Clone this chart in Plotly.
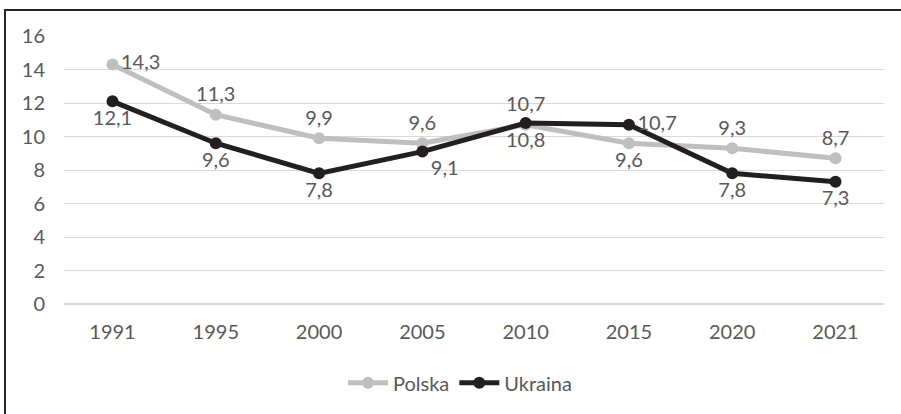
import plotly.graph_objects as go

years = ['1991', '1995', '2000', '2005', '2010', '2015', '2020', '2021']
polska = [14.3, 11.3, 9.9, 9.6, 10.7, 9.6, 9.3, 8.7]
ukraina = [12.1, 9.6, 7.8, 9.1, 10.8, 10.7, 7.8, 7.3]

pos_pl = ['middle right', 'top center', 'top center', 'top center',
          'top center', 'bottom center', 'top center', 'top center']
pos_ua = ['bottom center', 'bottom center', 'bottom center', 'bottom right',
          'bottom center', 'middle right', 'bottom center', 'bottom center']

font = 'Lato, Open Sans, sans-serif'
txt = '#595959'
fs = 20

fig = go.Figure()
fig.add_trace(go.Scatter(
    x=years, y=polska, name='Polska', mode='lines+markers+text',
    line=dict(color='#BFBFBF', width=5),
    marker=dict(color='#BFBFBF', size=12),
    text=[f'{v:.1f}'.replace('.', ',') for v in polska],
    textposition=pos_pl, textfont=dict(size=fs, color=txt, family=font)))
fig.add_trace(go.Scatter(
    x=years, y=ukraina, name='Ukraina', mode='lines+markers+text',
    line=dict(color='#231F20', width=5),
    marker=dict(color='#231F20', size=12),
    text=[f'{v:.1f}'.replace('.', ',') for v in ukraina],
    textposition=pos_ua, textfont=dict(size=fs, color=txt, family=font)))

# chart frame, right and bottom edges fall outside the picture
fig.add_shape(type='rect', xref='paper', yref='paper',
              x0=(5 - 64) / 820, x1=(960 - 64) / 820,
              y0=(308 - 470) / 272, y1=(308 - 9.5) / 272,
              line=dict(color='#262626', width=2), layer='below')

fig.update_layout(
    width=901, height=414,
    margin=dict(l=64, r=17, t=36, b=106),
    paper_bgcolor='white', plot_bgcolor='white',
    font=dict(family=font, size=fs, color=txt),
    showlegend=True,
    legend=dict(orientation='h', x=(460 - 64) / 820, xanchor='center',
                y=(308 - 388) / 272, yanchor='middle',
                font=dict(size=fs, color=txt), itemwidth=40),
    xaxis=dict(type='category', showgrid=False, showline=False,
               ticks='', tickfont=dict(size=fs, color=txt), ticklabelstandoff=14),
    yaxis=dict(range=[0, 16], dtick=2, showgrid=True, gridcolor='#D9D9D9',
               gridwidth=1, zeroline=True, zerolinecolor='#D9D9D9',
               ticks='', tickfont=dict(size=fs, color=txt), ticklabelstandoff=18),
)

fig.write_html('out.html', config={'displayModeBar': False},
               post_script="document.body.style.margin='0';")
